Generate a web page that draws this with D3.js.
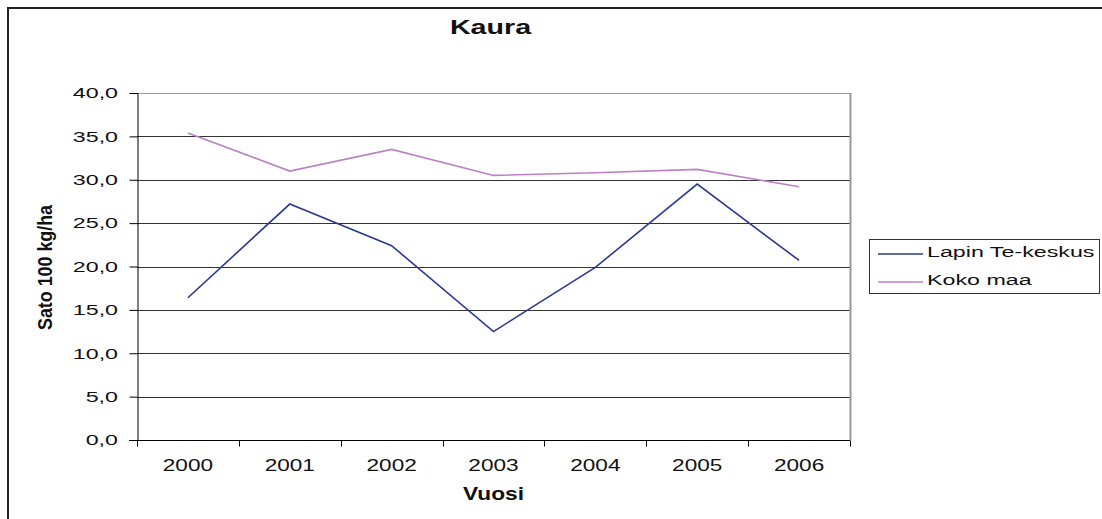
<!DOCTYPE html>
<html>
<head>
<meta charset="utf-8">
<script src="https://cdn.jsdelivr.net/npm/d3@7"></script>
<style>
  body { margin: 0; background: #fff; }
  svg { display: block; font-family: Arial, "Liberation Sans", sans-serif; }
</style>
</head>
<body>
<div id="chart"></div>
<script>
// Kaura – yields per year
const years = ['2000', '2001', '2002', '2003', '2004', '2005', '2006'];
const lappi = [16.4, 27.2, 22.4, 12.5, 19.9, 29.5, 20.7];
const kokoMaa = [35.4, 31.0, 33.5, 30.5, 30.8, 31.2, 29.2];
const seriesNames = ['Lapin Te-keskus', 'Koko maa'];
const yTicks = [0, 5, 10, 15, 20, 25, 30, 35, 40];

const width = 1102, height = 519;
const plot = { left: 137, right: 850, top: 93, bottom: 440 };
const font = 'Arial, "Liberation Sans", sans-serif';
const stretch = 1.55; // the original's wide-looking text
const midX = (plot.left + plot.right) / 2;

const svg = d3.select('#chart').append('svg')
  .attr('width', width)
  .attr('height', height);

// outer chart frame (cut off at right and bottom)
svg.append('path')
  .attr('d', `M8,${height + 5}V8H${width + 5}`)
  .attr('fill', 'none')
  .attr('stroke', '#222')
  .attr('stroke-width', 2);

const x = d3.scaleBand().domain(years).range([plot.left, plot.right]);
const y = d3.scaleLinear().domain([0, 40]).range([plot.bottom, plot.top]);

// gridlines
svg.append('g')
  .selectAll('line')
  .data(yTicks.filter(d => d > 0))
  .enter()
  .append('line')
  .attr('x1', plot.left).attr('x2', plot.right)
  .attr('y1', d => Math.round(y(d)) + 0.5)
  .attr('y2', d => Math.round(y(d)) + 0.5)
  .attr('stroke', d => d === 40 ? '#999' : '#333')
  .attr('stroke-width', 1.2);

// right border of plot area
svg.append('line')
  .attr('x1', plot.right + 0.5).attr('x2', plot.right + 0.5)
  .attr('y1', plot.top).attr('y2', plot.bottom)
  .attr('stroke', '#999')
  .attr('stroke-width', 2);

// y axis
const yAxis = svg.append('g')
  .attr('transform', `translate(${plot.left + 0.5},0)`)
  .call(d3.axisLeft(y).tickValues(yTicks).tickSize(8)
    .tickFormat(d => d3.format('.1f')(d).replace('.', ',')));
yAxis.select('.domain').attr('stroke', '#000');
yAxis.selectAll('.tick line').attr('stroke', '#000');
yAxis.selectAll('text')
  .attr('font-size', 15).attr('fill', '#111').attr('font-family', font)
  .attr('x', -19.5 / stretch)
  .attr('transform', `scale(${stretch},1)`);

// x axis
const xAxis = svg.append('g')
  .attr('transform', `translate(0,${plot.bottom + 0.5})`)
  .call(d3.axisBottom(x).tickSize(0).tickPadding(18));
xAxis.select('.domain').attr('stroke', '#000').attr('d', `M${plot.left - 8},0H${plot.right}`);
xAxis.selectAll('text')
  .attr('font-size', 17).attr('fill', '#111').attr('font-family', font)
  .attr('transform', 'scale(1.33,1)');
// category boundary ticks
xAxis.append('g')
  .selectAll('line')
  .data(years.map(d => x(d)).concat([plot.right]))
  .enter()
  .append('line')
  .attr('x1', d => Math.round(d) + 0.5).attr('x2', d => Math.round(d) + 0.5)
  .attr('y1', 0).attr('y2', 6)
  .attr('stroke', '#000');

// series lines
const line = d3.line()
  .x((d, i) => x(years[i]) + x.bandwidth() / 2)
  .y(d => y(d));

const colors = ['#2a3a8f', '#bb80c6'];
[lappi, kokoMaa].forEach((values, i) => {
  svg.append('path')
    .datum(values)
    .attr('d', line)
    .attr('fill', 'none')
    .attr('stroke', colors[i])
    .attr('stroke-width', 1.6);
});

// title & axis titles
svg.append('text')
  .attr('transform', `translate(${midX - 3},33.5) scale(1.47,1)`)
  .attr('text-anchor', 'middle')
  .attr('font-size', 19.5).attr('font-weight', 'bold')
  .attr('fill', '#111')
  .text('Kaura');

svg.append('text')
  .attr('transform', `translate(${midX},500) scale(1.3,1)`)
  .attr('text-anchor', 'middle')
  .attr('font-size', 17.5).attr('font-weight', 'bold')
  .attr('fill', '#111')
  .text('Vuosi');

svg.append('text')
  .attr('transform', 'translate(51.5,267.5) rotate(-90)')
  .attr('text-anchor', 'middle')
  .attr('font-size', 19.5).attr('font-weight', 'bold')
  .attr('textLength', 125).attr('lengthAdjust', 'spacingAndGlyphs')
  .attr('fill', '#111')
  .text('Sato 100 kg/ha');

// legend
const legend = svg.append('g');
legend.append('rect')
  .attr('x', 869.5).attr('y', 239.5)
  .attr('width', 230).attr('height', 54)
  .attr('fill', '#fff')
  .attr('stroke', '#333');

seriesNames.forEach((name, i) => {
  const ly = 254 + i * 28;
  legend.append('line')
    .attr('x1', 878).attr('x2', 923)
    .attr('y1', ly).attr('y2', ly)
    .attr('stroke', colors[i])
    .attr('stroke-width', 1.6);
  legend.append('text')
    .attr('transform', `translate(927,${ly + 3}) scale(${stretch},1)`)
    .attr('font-size', 15)
    .attr('fill', '#111')
    .text(name);
});
</script>
</body>
</html>
